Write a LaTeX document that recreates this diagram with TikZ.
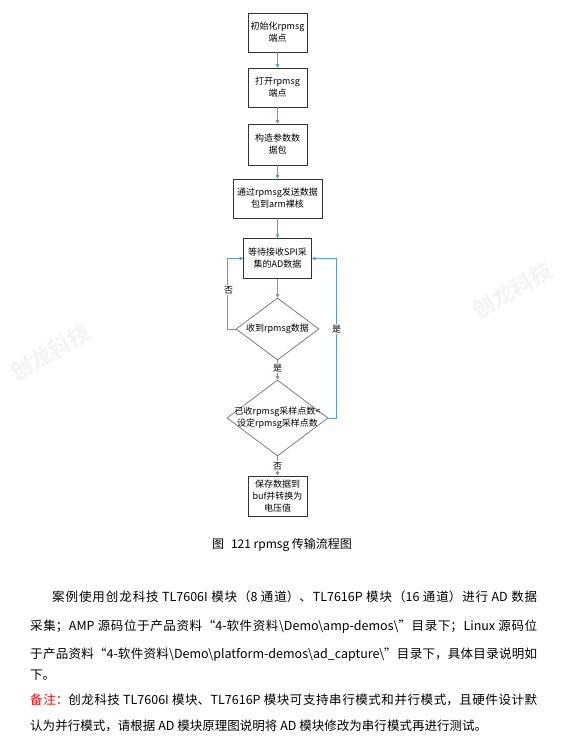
\documentclass[tikz,border=0pt]{standalone}
\usepackage{fontspec}
\setmainfont{Noto Sans CJK SC}
\usetikzlibrary{shapes.geometric, arrows.meta, positioning}
\XeTeXlinebreaklocale "zh"
\XeTeXlinebreakskip=0pt plus 2pt
\definecolor{flowblue}{HTML}{5B9BD5}
\newcommand\fitline[2]{\parbox[b]{#1}{\noindent\parfillskip=0pt\relax #2}}

\begin{document}
\begin{tikzpicture}[x=1pt, y=-1pt,
  procbox/.style={draw=black!80, line width=0.7pt, fill=white, align=center, inner sep=0pt, font=\fontsize{9}{12}\selectfont},
  decide/.style={diamond, draw=black!55, line width=0.7pt, fill=white, inner sep=0pt},
  flowtext/.style={align=center, inner sep=0pt, font=\fontsize{9}{12}\selectfont},
  flow/.style={color=flowblue, line width=0.8pt, -{Triangle[length=3.5pt, width=3.5pt]}},
  tag/.style={fill=white, inner sep=1pt, font=\fontsize{9}{10}\selectfont},
  bodyline/.style={anchor=base west, inner sep=0pt, font=\fontsize{12.5}{14}\selectfont},
  wmark/.style={black!4, rotate=30, inner sep=0pt, font=\bfseries\fontsize{22}{22}\selectfont}]

\useasboundingbox (0,0) rectangle (570,755);
\fill [white] (0,0) rectangle (570,755);

\node [wmark] (wm1) at (512,290) {创龙科技};
\node [wmark] (wm2) at (50,352) {创龙科技};

\node [procbox, minimum width=59, minimum height=39] (init)  at (277.5,32.5)  {初始化rpmsg\\端点};
\node [procbox, minimum width=59, minimum height=39] (open)  at (277.5,87.5)  {打开rpmsg\\端点};
\node [procbox, minimum width=59, minimum height=41] (pack)  at (277.5,144.5) {构造参数数\\据包};
\node [procbox, minimum width=89, minimum height=39] (send)  at (277.5,198.5) {通过rpmsg发送数据\\包到arm裸核};
\node [procbox, minimum width=68, minimum height=40] (wait)  at (277.5,258.5) {等待接收SPI采\\集的AD数据};
\node [decide, minimum width=83, minimum height=62]  (got)   at (277.5,329)   {};
\node [flowtext] (gottext) at (got) {收到rpmsg数据};
\node [decide, minimum width=101, minimum height=76] (enough) at (277.5,418)  {};
\node [flowtext] (enoughtext) at (enough) {已收rpmsg采样点数<\\设定rpmsg采样点数};
\node [procbox, minimum width=59, minimum height=40] (save)  at (277.5,496)   {保存数据到\\buf并转换为\\电压值};

\draw [flow] (init) -- (open);
\draw [flow] (open) -- (pack);
\draw [flow] (pack) -- (send);
\draw [flow] (send) -- (wait);
\draw [flow] (wait) -- (got);
\draw [flow] (got) -- (enough);
\draw [flow] (enough) -- (save);
\draw [flow] (got.west) -- ++(-8,0) |- (wait.west);
\draw [flow] (enough.east) -- ++(8,0) |- (wait.east);

\node [tag] (yes1) at (277.5,368) {是};
\node [tag] (no2)  at (277.5,466) {否};
\node [tag] (no1)  at (228.5,290) {否};
\node [tag] (yes2) at (336.5,329) {是};

\node [inner sep=0pt, font=\fontsize{12}{14}\selectfont] (caption) at (282,545) {图\hspace{7pt}121 rpmsg 传输流程图};

\node [bodyline] (line1) at (52,601.5)  {\fitline{485pt}{案例使用创龙科技 TL7606I 模块（8 通道）、TL7616P 模块（16 通道）进行 AD 数据}};
\node [bodyline] (line2) at (30,630.5)  {\fitline{507pt}{采集；AMP 源码位于产品资料“4-软件资料{\textbackslash}Demo{\textbackslash}amp-demos{\textbackslash}”目录下；Linux 源码位}};
\node [bodyline] (line3) at (30,658.5)  {\fitline{507pt}{于产品资料“4-软件资料{\textbackslash}Demo{\textbackslash}platform-demos{\textbackslash}ad\_capture{\textbackslash}”目录下，具体目录说明如}};
\node [bodyline] (line4) at (30,679.5)  {\fitline{27pt}{下。}};
\node [bodyline] (line5) at (30,704.5)  {\fitline{507pt}{{\color{red}备注：}创龙科技 TL7606I 模块、TL7616P 模块可支持串行模式和并行模式，且硬件设计默}};
\node [bodyline] (line6) at (30,730.5)  {\fitline{457pt}{认为并行模式，请根据 AD 模块原理图说明将 AD 模块修改为串行模式再进行测试。}};
\end{tikzpicture}
\end{document}
